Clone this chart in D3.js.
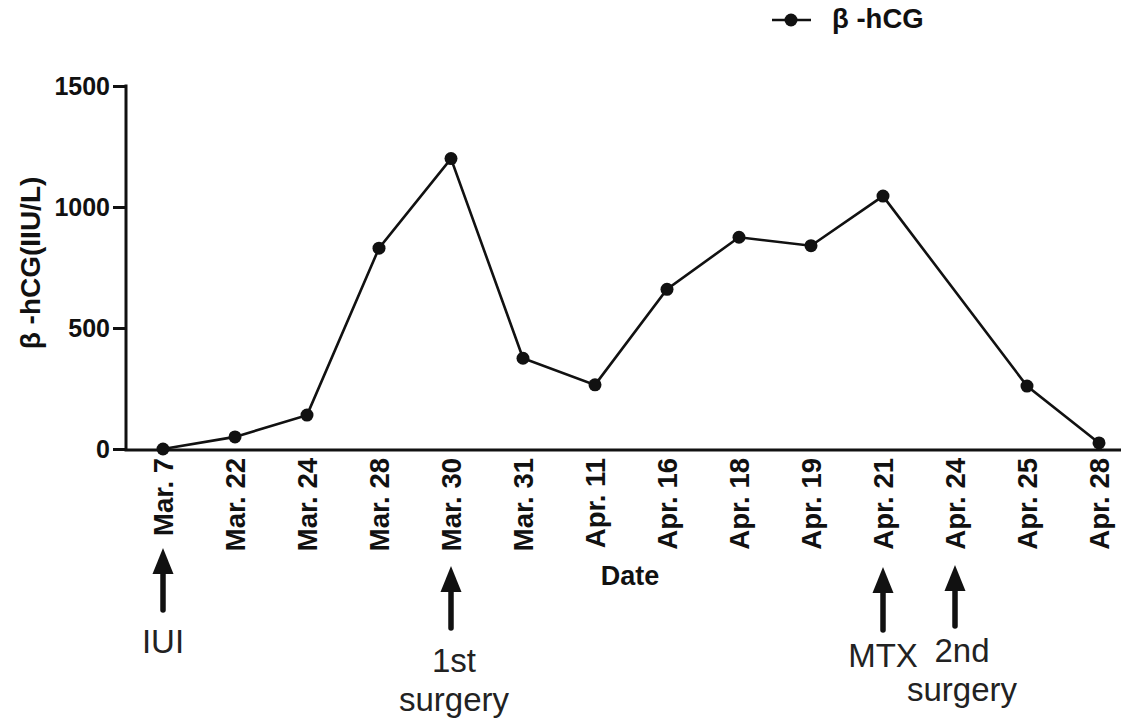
<!DOCTYPE html>
<html>
<head>
<meta charset="utf-8">
<script src="https://cdn.jsdelivr.net/npm/d3@7/dist/d3.min.js"></script>
<style>
  html, body { margin: 0; padding: 0; background: #fff; }
  svg { display: block; }
  text { font-family: "Liberation Sans", Arial, sans-serif; }
</style>
</head>
<body>
<svg id="chart" width="1121" height="720"></svg>
<script>
const dates = ["Mar. 7", "Mar. 22", "Mar. 24", "Mar. 28", "Mar. 30", "Mar. 31", "Apr. 11",
               "Apr. 16", "Apr. 18", "Apr. 19", "Apr. 21", "Apr. 24", "Apr. 25", "Apr. 28"];
const hcgValues = [0, 50, 140, 830, 1200, 375, 265, 660, 875, 840, 1045, null, 260, 25];
const yTicks = [0, 500, 1000, 1500];
const seriesName = "β -hCG";
const yTitle = "β -hCG(IIU/L)";
const xTitle = "Date";
const eventDates = ["Mar. 7", "Mar. 30", "Apr. 21", "Apr. 24"];
const eventLabels = [["IUI"], ["1st", "surgery"], ["MTX"], ["2nd", "surgery"]];

const svg = d3.select("#chart");
const x = d3.scalePoint().domain(dates).range([163, 1099]);
const y = d3.scaleLinear().domain([0, 1500]).range([449, 86]);

// axes
const yAxis = svg.append("g").attr("transform", "translate(126,0)")
  .call(d3.axisLeft(y).tickValues(yTicks).tickSize(13).tickPadding(3).tickFormat(d3.format("d")));
yAxis.select(".domain").remove();
yAxis.selectAll(".tick line").attr("stroke", "#111").attr("stroke-width", 3);
yAxis.selectAll(".tick text").attr("font-size", 25).attr("font-weight", "bold").attr("fill", "#111");
svg.append("line").attr("x1", 126).attr("x2", 126).attr("y1", y(1500) - 1.5).attr("y2", y(0) + 1.5)
  .attr("stroke", "#111").attr("stroke-width", 3);
svg.append("line").attr("x1", 124.5).attr("x2", 1121).attr("y1", y(0) + 1).attr("y2", y(0) + 1)
  .attr("stroke", "#111").attr("stroke-width", 3);

// x tick labels
svg.append("g").selectAll("text").data(dates).join("text")
  .attr("transform", d => `translate(${x(d)},458) rotate(-90)`)
  .attr("text-anchor", "end").attr("dy", "0.36em")
  .attr("font-size", 27.5).attr("font-weight", "bold").attr("fill", "#111")
  .text(d => d);

// titles
svg.append("text").attr("transform", "translate(30,263) rotate(-90)")
  .attr("text-anchor", "middle").attr("dy", "0.35em")
  .attr("font-size", 28).attr("font-weight", "bold").attr("fill", "#111").text(yTitle);
svg.append("text").attr("x", 630).attr("y", 585).attr("text-anchor", "middle")
  .attr("font-size", 27).attr("font-weight", "bold").attr("fill", "#111").text(xTitle);

// series
const pts = dates.map((d, i) => ({ date: d, v: hcgValues[i] })).filter(p => p.v !== null);
svg.append("path").datum(pts)
  .attr("d", d3.line().x(p => x(p.date)).y(p => y(p.v)))
  .attr("fill", "none").attr("stroke", "#111").attr("stroke-width", 2.6);
svg.append("g").selectAll("circle").data(pts).join("circle")
  .attr("cx", p => x(p.date)).attr("cy", p => y(p.v)).attr("r", 6.5).attr("fill", "#111");

// legend
const lg = svg.append("g");
lg.append("line").attr("x1", 772).attr("x2", 811).attr("y1", 20).attr("y2", 20)
  .attr("stroke", "#111").attr("stroke-width", 2.6);
lg.append("circle").attr("cx", 791).attr("cy", 20).attr("r", 6.5).attr("fill", "#111");
lg.append("text").attr("x", 832).attr("y", 28).attr("font-size", 27.5).attr("font-weight", "bold")
  .attr("fill", "#111").text(seriesName);

// event arrows
const tipY = [548, 566, 567, 565];
const baseY = [610, 628, 630, 626];
const textY = [653, 672, 667, 662];
const textDx = [0, 3, 0, 7];
const ev = svg.append("g");
eventDates.forEach((d, i) => {
  const cx = x(d);
  ev.append("line").attr("x1", cx).attr("x2", cx).attr("y1", tipY[i] + 20).attr("y2", baseY[i])
    .attr("stroke", "#111").attr("stroke-width", 5.5).attr("stroke-linecap", "round");
  ev.append("path")
    .attr("d", `M${cx},${tipY[i]} L${cx - 10.5},${tipY[i] + 26} L${cx + 10.5},${tipY[i] + 26} Z`)
    .attr("fill", "#111");
  const t = ev.append("text").attr("x", cx + textDx[i]).attr("y", textY[i])
    .attr("text-anchor", "middle").attr("font-size", 33).attr("fill", "#222");
  eventLabels[i].forEach((s, j) => {
    t.append("tspan").attr("x", cx + textDx[i]).attr("dy", j === 0 ? 0 : 39).text(s);
  });
});
</script>
</body>
</html>
